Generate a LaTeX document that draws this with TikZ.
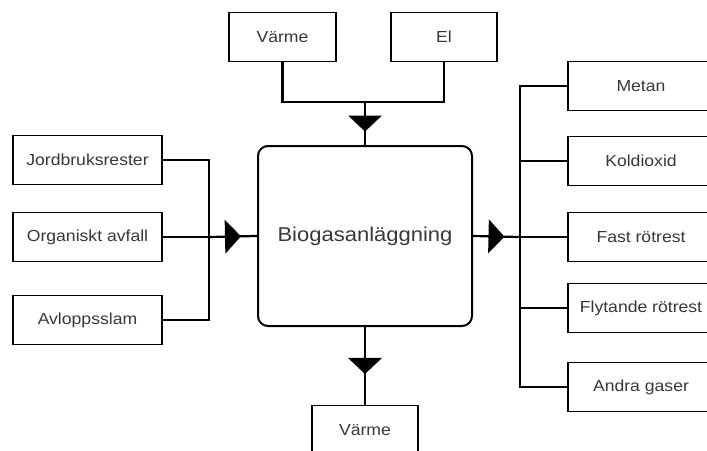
\documentclass[tikz,border=0pt]{standalone}
\usepackage{fontspec}
\setmainfont{Liberation Sans}
\newfontfamily\boxfont[FakeStretch=1.1]{Liberation Sans}
\newfontfamily\bigfont[FakeStretch=1.1]{Liberation Sans}
\usetikzlibrary{calc}
\usetikzlibrary{decorations.markings}

\begin{document}
\begin{tikzpicture}[x=1pt,y=-1pt,
  box/.style={draw=black, line width=1.1pt, fill=white, inner sep=0pt,
    minimum height=49pt, text=black!78, font=\boxfont\fontsize{16}{18}\selectfont},
  bus/.style={line width=2.2pt},
  wire/.style={line width=1.2pt},
  midtri/.style={postaction={decorate}, decoration={markings,
    mark=at position 0.5 with {\fill[black] (8pt,0) -- (-8pt,17pt) -- (-8pt,-17pt) -- cycle;}}}]
\useasboundingbox (0,0) rectangle (707,450);
\clip (0,0) rectangle (707,450);

% central unit
\node[draw=black, line width=2pt, rounded corners=10pt, minimum width=214pt, minimum height=180pt,
  text=black!78, font=\bigfont\fontsize{20}{24}\selectfont] (bio) at (365,236) {Biogasanläggning};

% inputs
\foreach \name/\yy/\txt in {jord/160/Jordbruksrester, avfall/237/Organiskt avfall, slam/320/Avloppsslam} {
  \node[box, minimum width=149pt] (\name) at (87.5,\yy) {\txt};
}
\node[box, minimum width=107pt] (varmein) at (282.5,37) {Värme};
\node[box, minimum width=106pt] (el) at (444,37) {El};

% outputs
\foreach \name/\yy/\txt in {metan/86/Metan, koldi/161/Koldioxid, fast/237/Fast rötrest,
  flyt/308/Flytande rötrest, andra/387/Andra gaser} {
  \node[box, minimum width=146pt] (\name) at (641,\yy) {\txt};
}
\node[box, minimum width=106pt] (varmeut) at (365,430) {Värme};

% connectors
\coordinate (lbus) at (209,237);
\coordinate (tbus) at (365,102);
\coordinate (rbus) at (520,237);

\draw[bus] (jord.east) -| (lbus);
\draw[bus] (slam.east) -| (lbus);
\draw[wire] (avfall.east) -- (lbus);
\draw[bus,midtri] (lbus) -- (bio.west);

\draw[bus] (varmein.south) |- (tbus);
\draw[bus] (el.south) |- (tbus);
\draw[wire,midtri] (tbus) -- (bio.north);

\draw[bus,midtri] (bio.east) -- (rbus);
\draw[bus] (metan.west) -| (rbus);
\draw[bus] (andra.west) -| (rbus);
\draw[wire] (koldi.west) -| (rbus);
\draw[wire] (fast.west) -- (rbus);
\draw[wire] (flyt.west) -| (rbus);

\draw[wire,midtri] (bio.south) -- (varmeut.north);
\end{tikzpicture}
\end{document}
